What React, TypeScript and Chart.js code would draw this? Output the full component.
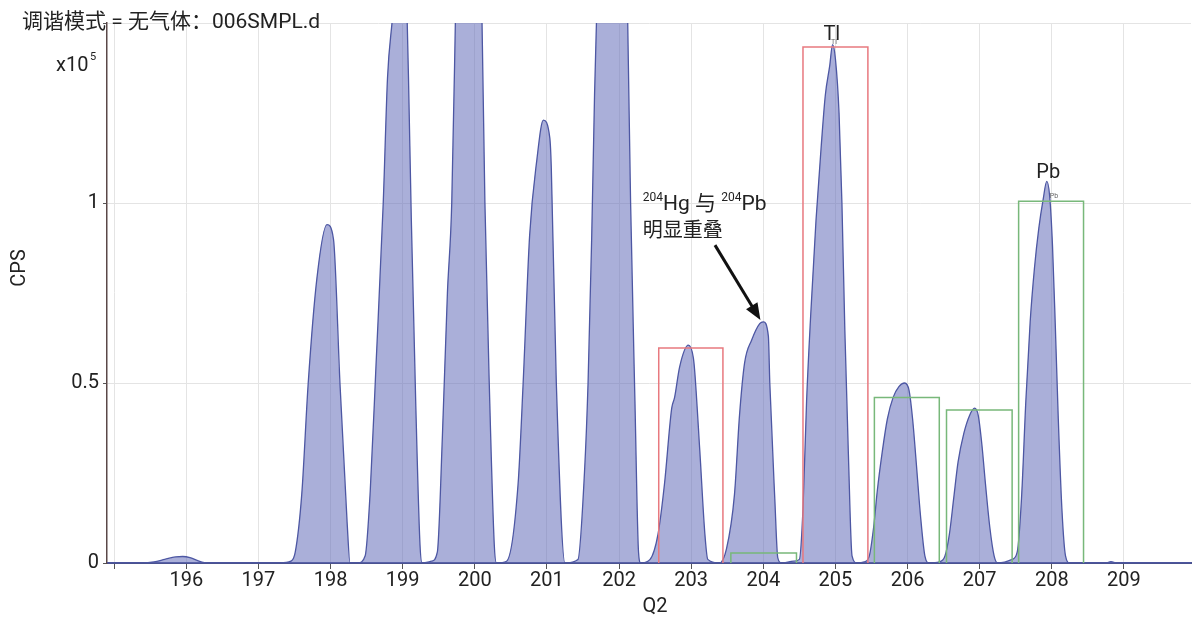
import React, { useEffect, useRef } from "react";
import { Chart, registerables } from "chart.js";

Chart.register(...registerables);

// ---- spectrum data (Q2 mass vs CPS, in units of 1e5) ----
const qValues = [
  194.9, 195.4, 195.55, 195.7, 195.85, 195.95, 196.05, 196.15, 196.25, 196.35,
  197.3, 197.45,
  197.51, 197.6, 197.69, 197.81, 197.95, 198.04, 198.13, 198.23, 198.27, 198.38,
  198.48, 198.55, 198.63, 198.73, 198.79, 198.87, 198.95, 199.0, 199.04, 199.08, 199.12, 199.18, 199.24, 199.27, 199.4,
  199.48, 199.55, 199.62, 199.68, 199.73, 199.8, 199.9, 199.98, 200.05, 200.1, 200.14, 200.2, 200.27, 200.3,
  200.44, 200.6, 200.67, 200.76, 200.86, 200.95, 201.04, 201.06, 201.13, 201.25, 201.43,
  201.52, 201.57, 201.62, 201.66, 201.7, 201.8, 201.9, 201.98, 202.06, 202.12, 202.16, 202.22, 202.27, 202.3,
  202.43, 202.54, 202.63, 202.73, 202.77, 202.84, 202.96, 203.03, 203.05, 203.12, 203.19, 203.23, 203.39,
  203.49, 203.6, 203.67, 203.74, 203.84, 203.95, 204.0, 204.07, 204.09, 204.16, 204.2, 204.25, 204.42,
  204.5, 204.55, 204.6, 204.66, 204.73, 204.8, 204.86, 204.92, 204.96, 205.0, 205.05, 205.09, 205.13, 205.18, 205.23, 205.3, 205.4,
  205.47, 205.53, 205.58, 205.65, 205.72, 205.8, 205.88, 205.96, 206.02, 206.07, 206.12, 206.18, 206.24, 206.3, 206.44,
  206.52, 206.58, 206.64, 206.7, 206.78, 206.86, 206.93, 206.98, 207.03, 207.08, 207.14, 207.2, 207.25, 207.45,
  207.52, 207.58, 207.64, 207.7, 207.76, 207.82, 207.88, 207.93, 207.97, 208.01, 208.05, 208.09, 208.14, 208.19, 208.25,
  208.75, 208.82, 208.9, 209.93,
];
const cpsValues = [
  0, 0, 0.003, 0.01, 0.017, 0.018, 0.015, 0.007, 0.001, 0,
  0, 0.005,
  0.03, 0.19, 0.5, 0.79, 0.94, 0.9, 0.5, 0.11, 0, 0,
  0.02, 0.2, 0.55, 1.0, 1.35, 1.55, 1.9, 2.0, 1.7, 1.35, 0.95, 0.45, 0.05, 0, 0.005,
  0.03, 0.35, 0.75, 1.0, 1.5, 2.3, 2.9, 3.0, 2.3, 1.5, 1.0, 0.5, 0.05, 0,
  0.005, 0.22, 0.5, 0.91, 1.12, 1.23, 1.18, 1.1, 0.5, 0, 0.01,
  0.25, 0.5, 0.9, 1.3, 1.6, 2.3, 2.7, 2.8, 2.2, 1.5, 1.0, 0.45, 0.03, 0,
  0.01, 0.08, 0.22, 0.43, 0.46, 0.545, 0.605, 0.57, 0.53, 0.31, 0.08, 0.01, 0,
  0.04, 0.19, 0.41, 0.555, 0.62, 0.665, 0.67, 0.63, 0.5, 0.175, 0.015, 0, 0.005,
  0.01, 0.15, 0.45, 0.7, 0.95, 1.15, 1.3, 1.38, 1.44, 1.4, 1.25, 1.0, 0.65, 0.3, 0.02, 0, 0.003,
  0.02, 0.1, 0.2, 0.31, 0.4, 0.46, 0.49, 0.5, 0.48, 0.4, 0.28, 0.13, 0.02, 0, 0.003,
  0.02, 0.08, 0.18, 0.28, 0.36, 0.41, 0.43, 0.41, 0.33, 0.22, 0.1, 0.02, 0, 0.01,
  0.03, 0.18, 0.45, 0.67, 0.82, 0.93, 1.01, 1.06, 1.02, 0.88, 0.65, 0.4, 0.15, 0.02, 0,
  0, 0.004, 0, 0,
];

// ---- integration windows ----
const boxStart = [202.55, 203.55, 204.55, 205.54, 206.54, 207.54];
const boxEnd = [203.44, 204.46, 205.45, 206.44, 207.45, 208.44];
const boxTop = [0.597, 0.028, 1.433, 0.46, 0.425, 1.005];
const boxKind = ["red", "green", "red", "green", "green", "green"];

// ---- axes ----
const xTickValues = [195, 196, 197, 198, 199, 200, 201, 202, 203, 204, 205, 206, 207, 208, 209];
const xTickLabels = ["", "196", "197", "198", "199", "200", "201", "202", "203", "204", "205", "206", "207", "208", "209"];
const yTickValues = [0, 0.5, 1, 1.5];
const yTickLabels = ["0", "0.5", "1", ""];

const titleText = "调谐模式 = 无气体：006SMPL.d";

const FONT = "Roboto, 'Noto Sans CJK SC', sans-serif";

const overlayPlugin = {
  id: "overlay",
  afterDraw(chart: any) {
    const ctx = chart.ctx;
    const xs = chart.scales.x;
    const ys = chart.scales.y;
    const area = chart.chartArea;
    ctx.save();
    ctx.fillStyle = "#222";
    ctx.textBaseline = "alphabetic";

    // title
    ctx.font = `21px ${FONT}`;
    ctx.textAlign = "left";
    ctx.fillText(titleText, 22, 28);

    // x10^5
    ctx.font = `20px ${FONT}`;
    ctx.textAlign = "left";
    ctx.fillText("x10", 56, 71);
    ctx.font = `11px ${FONT}`;
    ctx.fillText("5", 90, 60);

    // axis titles
    ctx.font = `20px ${FONT}`;
    ctx.textAlign = "center";
    ctx.fillText("Q2", (area.left + area.right) / 2 + 6, 612);
    ctx.save();
    ctx.translate(25, 268);
    ctx.rotate(-Math.PI / 2);
    ctx.fillText("CPS", 0, 0);
    ctx.restore();

    // element labels
    ctx.font = `20px ${FONT}`;
    ctx.textAlign = "center";
    ctx.fillText("Tl", xs.getPixelForValue(204.95), ys.getPixelForValue(1.475) + 8);
    ctx.fillText("Pb", xs.getPixelForValue(207.95), ys.getPixelForValue(1.092) + 8);
    ctx.font = `7px ${FONT}`;
    ctx.fillStyle = "#666";
    ctx.fillText("Tl", xs.getPixelForValue(204.98), ys.getPixelForValue(1.447) + 2);
    ctx.fillText("Pb", xs.getPixelForValue(208.03), ys.getPixelForValue(1.019) + 2);

    // annotation text
    ctx.fillStyle = "#222";
    const tx = xs.getPixelForValue(202.33);
    const ty = ys.getPixelForValue(0.98);
    ctx.textAlign = "left";
    let cx = tx;
    ctx.font = `12px ${FONT}`;
    ctx.fillText("204", cx, ty - 9);
    cx += ctx.measureText("204").width;
    ctx.font = `21px ${FONT}`;
    ctx.fillText("Hg 与 ", cx, ty);
    cx += ctx.measureText("Hg 与 ").width;
    ctx.font = `12px ${FONT}`;
    ctx.fillText("204", cx, ty - 9);
    cx += ctx.measureText("204").width;
    ctx.font = `21px ${FONT}`;
    ctx.fillText("Pb", cx, ty);
    ctx.font = `20px ${FONT}`;
    ctx.fillText("明显重叠", tx, ty + 27);

    // arrow
    const x1 = xs.getPixelForValue(203.33);
    const y1 = ys.getPixelForValue(0.883);
    const x2 = xs.getPixelForValue(203.96);
    const y2 = ys.getPixelForValue(0.675);
    const ang = Math.atan2(y2 - y1, x2 - x1);
    const head = 18;
    ctx.strokeStyle = "#111";
    ctx.fillStyle = "#111";
    ctx.lineWidth = 3;
    ctx.beginPath();
    ctx.moveTo(x1, y1);
    ctx.lineTo(x2 - Math.cos(ang) * head * 0.8, y2 - Math.sin(ang) * head * 0.8);
    ctx.stroke();
    ctx.beginPath();
    ctx.moveTo(x2, y2);
    ctx.lineTo(x2 - Math.cos(ang - 0.38) * head, y2 - Math.sin(ang - 0.38) * head);
    ctx.lineTo(x2 - Math.cos(ang + 0.38) * head, y2 - Math.sin(ang + 0.38) * head);
    ctx.closePath();
    ctx.fill();
    ctx.restore();
  },
};

export default function App() {
  const ref = useRef<HTMLCanvasElement | null>(null);
  useEffect(() => {
    if (!ref.current) return;
    const spectrum = qValues.map((q, i) => ({ x: q, y: cpsValues[i] }));
    const boxes = boxStart.map((s, i) => ({
      type: "line" as const,
      data: [
        { x: s, y: 0 },
        { x: s, y: boxTop[i] },
        { x: boxEnd[i], y: boxTop[i] },
        { x: boxEnd[i], y: 0 },
      ],
      borderColor: boxKind[i] === "red" ? "#e8797f" : "#78b87a",
      borderWidth: 1.5,
      pointRadius: 0,
      fill: false,
      tension: 0,
      order: 0,
    }));
    const chart = new Chart(ref.current, {
      type: "line",
      data: {
        datasets: [
          ...boxes,
          {
            data: spectrum,
            borderColor: "#4d57a3",
            borderWidth: 1.3,
            backgroundColor: "rgba(100,110,185,0.55)",
            fill: "origin",
            pointRadius: 0,
            cubicInterpolationMode: "monotone",
            order: 1,
          },
        ],
      },
      options: {
        animation: false,
        responsive: false,
        devicePixelRatio: 1,
        parsing: false,
        layout: { padding: { top: 23, right: 2, left: 0, bottom: 0 } },
        plugins: { legend: { display: false }, tooltip: { enabled: false } },
        scales: {
          x: {
            type: "linear",
            min: 194.9,
            max: 209.93,
            afterBuildTicks: (scale: any) => {
              scale.ticks = xTickValues.map((v) => ({ value: v }));
            },
            afterFit: (scale: any) => {
              scale.height = 54;
            },
            ticks: {
              autoSkip: false,
              maxRotation: 0,
              padding: 0,
              color: "#222",
              font: { family: FONT, size: 20 },
              callback: (v: any) => {
                const i = xTickValues.indexOf(Number(v));
                return i >= 0 ? xTickLabels[i] : "";
              },
            },
            grid: { color: "#e4e4e4", lineWidth: 1, tickLength: 6, tickColor: "#555" },
            border: { color: "#4a5290", width: 2 },
          },
          y: {
            type: "linear",
            min: 0,
            max: 1.5,
            afterBuildTicks: (scale: any) => {
              scale.ticks = yTickValues.map((v) => ({ value: v }));
            },
            afterFit: (scale: any) => {
              scale.width = 107;
            },
            ticks: {
              padding: 4,
              color: "#222",
              font: { family: FONT, size: 20 },
              callback: (v: any) => {
                const i = yTickValues.indexOf(Number(v));
                return i >= 0 ? yTickLabels[i] : "";
              },
            },
            grid: { color: "#e4e4e4", lineWidth: 1, tickLength: 4, tickColor: "#555" },
            border: { color: "#5a4848", width: 1.5 },
          },
        },
      },
      plugins: [overlayPlugin],
    });
    return () => chart.destroy();
  }, []);
  return (
    <div style={{ position: "fixed", left: 0, top: 0, width: 1193, height: 617, background: "#fff" }}>
      <canvas ref={ref} width={1193} height={617} style={{ display: "block" }} />
    </div>
  );
}
